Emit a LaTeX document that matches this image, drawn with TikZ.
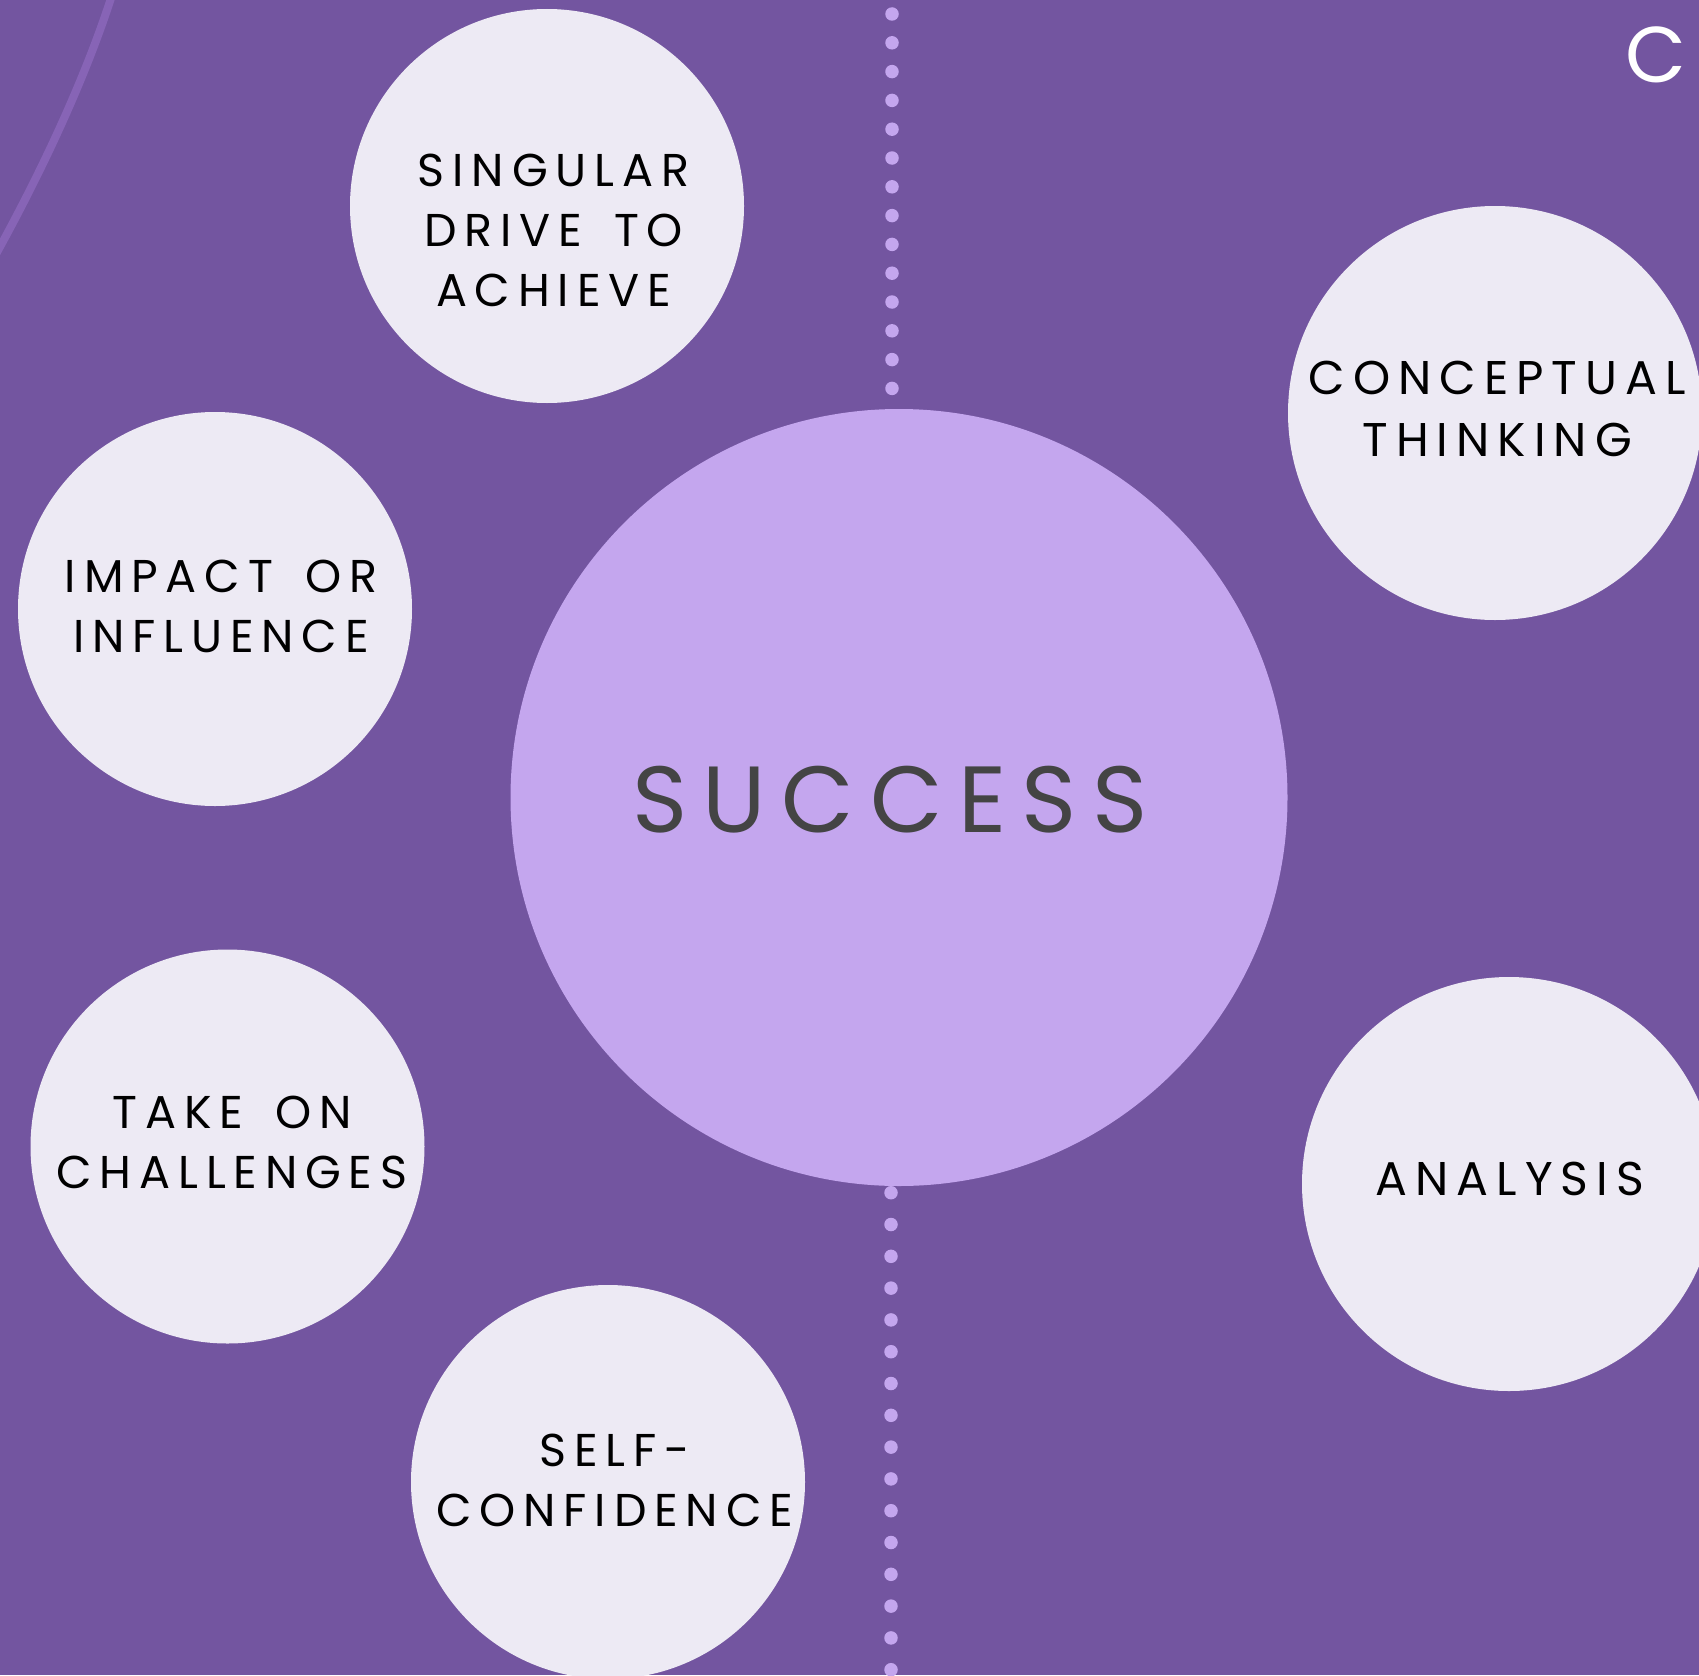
\documentclass[tikz,border=0pt]{standalone}
\usepackage{fontspec}
\newfontfamily\bubblefont[LetterSpace=17,WordSpace=1.6]{Poppins}
\newfontfamily\hubfont[LetterSpace=16.5]{Poppins}
\newfontfamily\cornerfont{Poppins}

\definecolor{bgpurple}{RGB}{115,85,160}
\definecolor{bubblegrey}{RGB}{237,234,244}
\definecolor{lilac}{RGB}{196,166,238}
\definecolor{streak}{RGB}{135,100,182}
\definecolor{inkgrey}{RGB}{68,68,68}

\begin{document}
\begin{tikzpicture}[x=1pt,y=-1pt,
        bubble/.style={circle,fill=bubblegrey,inner sep=0pt,minimum size=394pt},
        bigbubble/.style={circle,fill=bubblegrey,inner sep=0pt,minimum size=414pt},
        tag/.style={align=center,inner sep=0pt,text=black,font=\bubblefont\fontsize{46}{60}\selectfont},
        bigtag/.style={tag,font=\bubblefont\fontsize{47.3}{62}\selectfont},
        pearl/.style={circle,fill=lilac,inner sep=0pt,minimum size=13.5pt}]
                                    \coordinate (O) at (0,0);
                                    \coordinate (E) at (1699,1675);
                                    \coordinate (S1) at (112,-5);
                                    \coordinate (S2) at (-5,256);

                                    \fill[bgpurple] (O) rectangle (E);
                                    \clip (O) rectangle (E);

                                    \draw[streak,line width=8pt] (S1) .. controls (88,70) and (48,160) .. (S2);

                                    \foreach \k in {0,...,13}
                                        \node[pearl] (top\k) at (892,14+28.8*\k) {};
                                    \foreach \k in {0,...,15}
                                        \node[pearl] (bot\k) at (891,1192.7+31.8*\k) {};

                                    \node[circle,fill=lilac,inner sep=0pt,minimum size=777pt] (success) at (899,797.5) {};

                                    \node[bubble] (drive) at (547,206) {};
                                    \node[bubble] (impact) at (215,609) {};
                                    \node[bubble] (challenges) at (227.5,1146.5) {};
                                    \node[bubble] (confidence) at (608,1482) {};
                                    \node[bigbubble] (conceptual) at (1495,413) {};
                                    \node[bigbubble] (analysis) at (1509,1184) {};

                                    \node[tag] (drivetext) at (553.5,230) {SINGULAR\\DRIVE TO\\ACHIEVE};
                                    \node[tag] (impacttext) at (221,606) {IMPACT OR\\INFLUENCE};
                                    \node[tag] (challengestext) at (232,1142) {TAKE ON\\CHALLENGES};
                                    \node[tag] (confidencetext) at (614.7,1480) {SELF-\\CONFIDENCE};
                                    \node[bigtag] (conceptualtext) at (1497.2,409) {CONCEPTUAL\\THINKING};
                                    \node[bigtag] (analysistext) at (1509.8,1179) {ANALYSIS};

                                    \node[inner sep=0pt,text=inkgrey,font=\hubfont\fontsize{94}{110}\selectfont] (successtext) at (890,799.5) {SUCCESS};

                                    \node[inner sep=0pt,text=white,font=\cornerfont\fontsize{79}{90}\selectfont] (corner) at (1656,55) {C};
                                    \end{tikzpicture}
\end{document}
